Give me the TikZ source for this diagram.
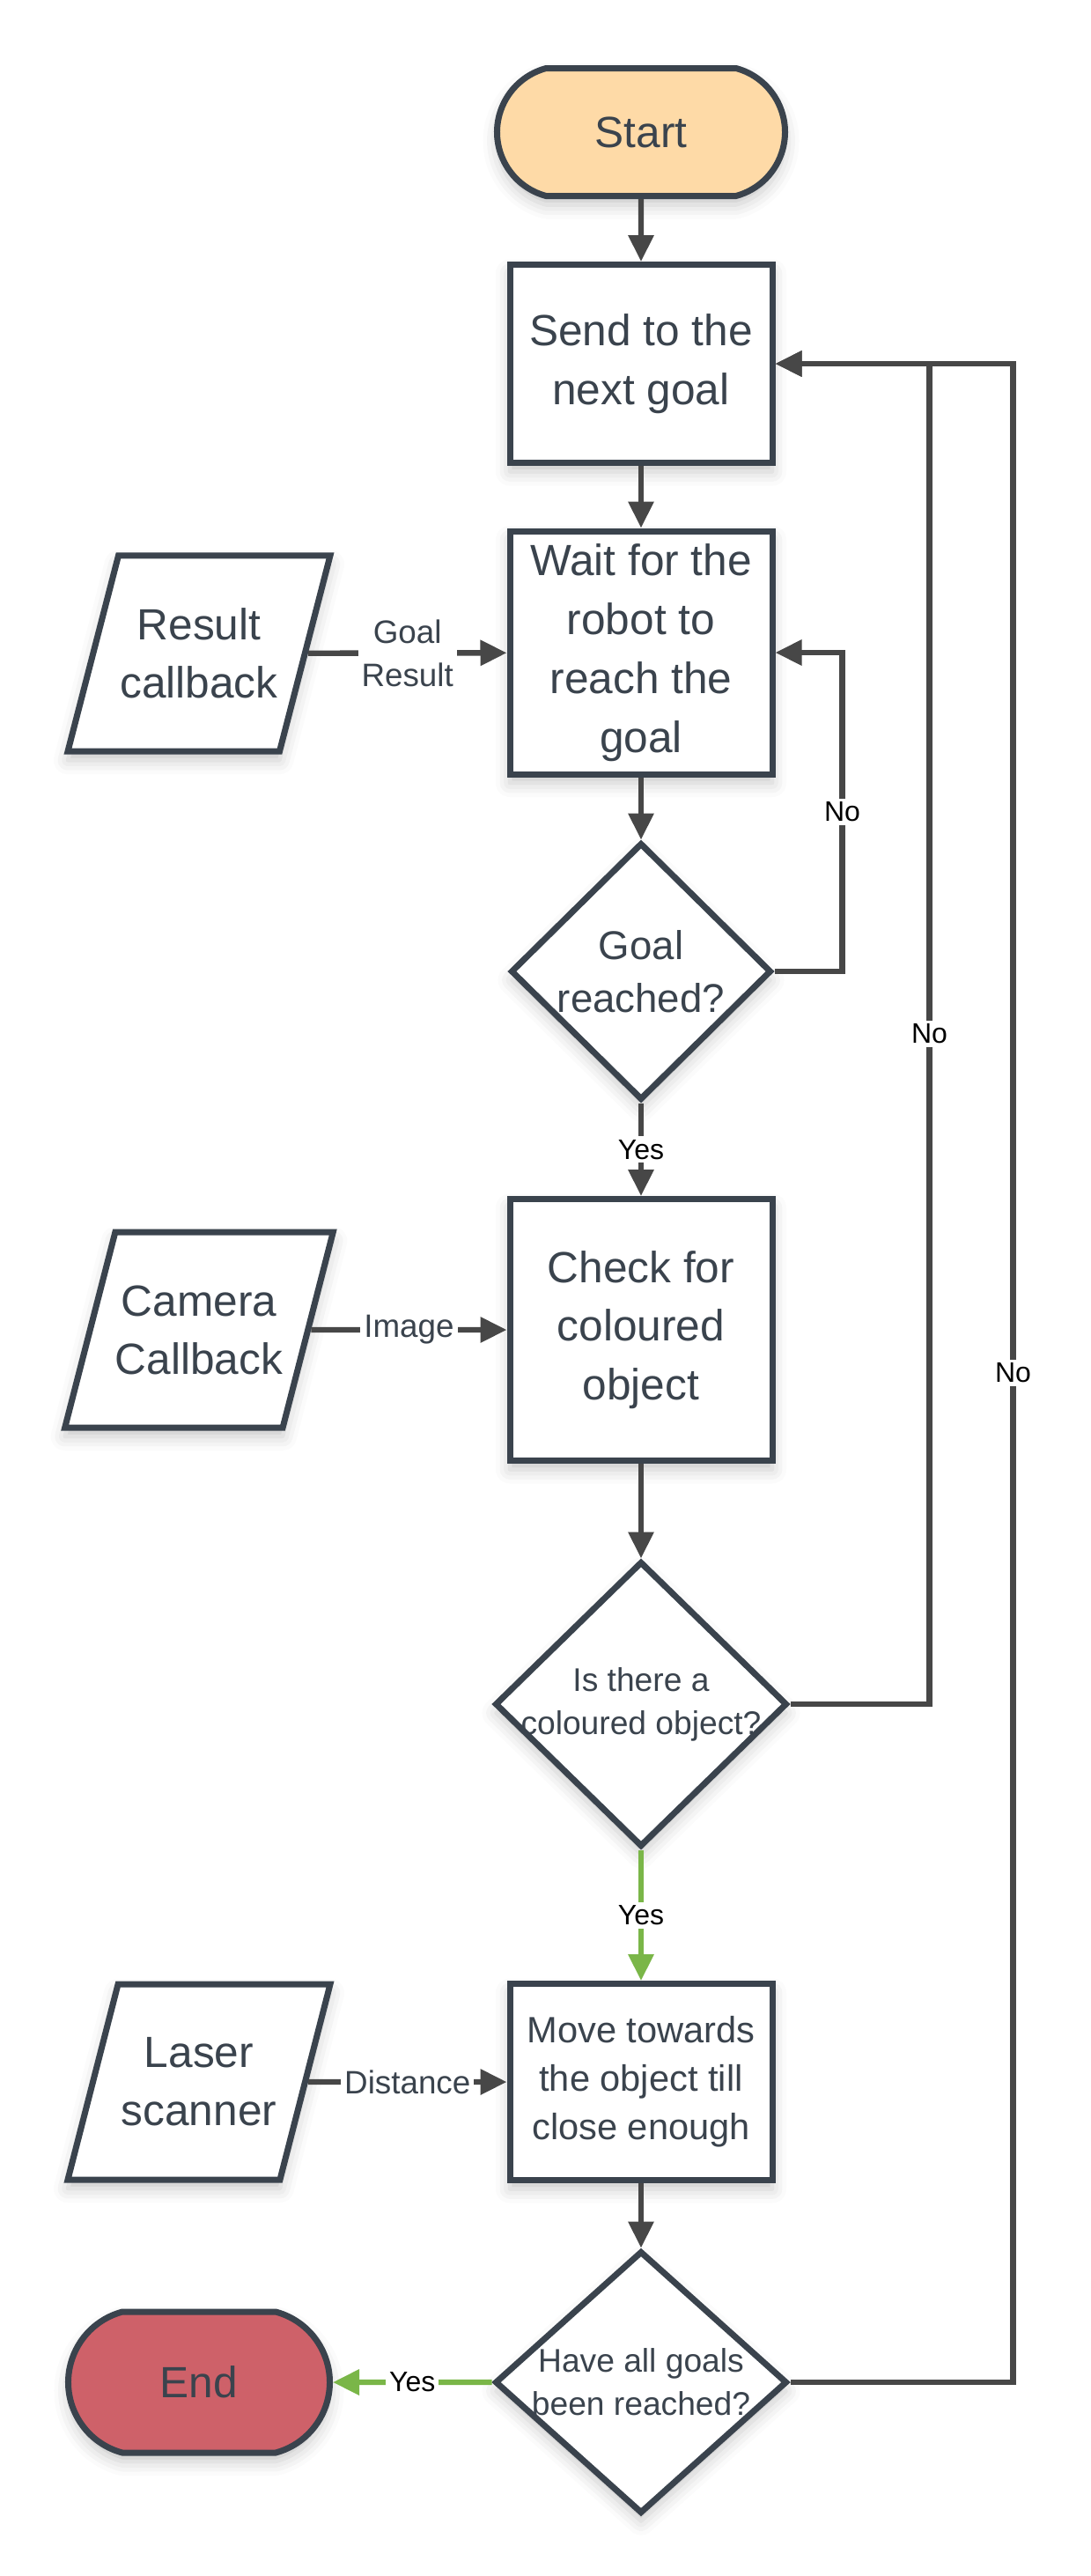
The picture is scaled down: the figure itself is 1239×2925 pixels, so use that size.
\documentclass[tikz,border=0pt]{standalone}
\usepackage{fontspec}
\setmainfont{Liberation Sans}
\usetikzlibrary{arrows.meta,shapes.geometric,shapes.misc,shadows.blur}
\definecolor{ink}{HTML}{3A434D}
\definecolor{wire}{HTML}{474747}
\definecolor{peach}{HTML}{FEDAA7}
\definecolor{rose}{HTML}{CE6169}
\definecolor{leaf}{HTML}{7AB648}
\tikzset{
    soft/.style={blur shadow={shadow xshift=0pt,shadow yshift=-2.5pt,shadow blur radius=4pt,shadow opacity=22}},
    startstop/.style={rounded rectangle,rounded rectangle arc length=150,draw=ink,line width=1.75pt,text=ink,
        font=\fontsize{12.4}{16.5}\selectfont,minimum width=81.75pt,minimum height=36.25pt,inner sep=0pt,soft},
    process/.style={rectangle,draw=ink,fill=white,line width=1.75pt,text=ink,align=center,
        font=\fontsize{12.4}{16.7}\selectfont,minimum width=74.5pt,inner sep=0pt,soft},
    decision/.style={diamond,draw=ink,fill=white,line width=1.75pt,inner sep=0pt,soft},
    dtext/.style={text=ink,align=center,inner sep=0pt},
    io/.style={trapezium,trapezium left angle=75.5,trapezium right angle=104.5,trapezium stretches body,
        draw=ink,fill=white,line width=1.75pt,text=ink,align=center,font=\fontsize{12.4}{16.5}\selectfont,
        minimum width=74.5pt,minimum height=55.5pt,inner xsep=0pt,inner ysep=15pt,soft},
    edge/.style={draw=wire,line width=1.6pt,-{Triangle[length=7.5pt,width=7pt]}},
    yesedge/.style={edge,draw=leaf},
    lbl/.style={fill=white,inner sep=1pt,font=\fontsize{8}{10}\selectfont,text=black},
    inlbl/.style={fill=white,inner sep=1pt,align=center,font=\fontsize{9.2}{12.3}\selectfont,text=ink}
}

\begin{document}
\begin{tikzpicture}[x=0.25pt,y=-0.25pt]
\useasboundingbox (0,0) rectangle (1239,2925);

\node[startstop, fill=peach] (start) at (728,150) {Start};
\node[process, minimum height=56.25pt] (send) at (728,413) {Send to the\\next goal};
\node[process, minimum height=69pt] (wait) at (728,741) {Wait for the\\robot to\\reach the\\goal};
\node[io] (result) at (226,742) {Result\\callback};
\node[decision, minimum width=74pt, minimum height=73pt,
    label={[dtext, font=\fontsize{11.4}{15}\selectfont]center:Goal\\reached?}] (reached) at (728,1103) {};
\node[process, minimum height=74.25pt] (check) at (728,1510) {Check for\\coloured\\object};
\node[io] (camera) at (226,1510) {Camera\\Callback};
\node[decision, minimum width=83pt, minimum height=81pt,
    label={[dtext, font=\fontsize{9.3}{12.2}\selectfont]center:Is there a\\coloured object?}] (object) at (728,1935) {};
\node[process, minimum height=55.75pt, font=\fontsize{10.4}{13.8}\selectfont] (move) at (728,2364) {Move towards\\the object till\\close enough};
\node[io] (laser) at (226,2364) {Laser\\scanner};
\node[decision, minimum width=83pt, minimum height=74.5pt,
    label={[dtext, font=\fontsize{9.3}{12.3}\selectfont]center:Have all goals\\been reached?}] (goals) at (728,2705) {};
\node[startstop, fill=rose, minimum width=74.25pt, minimum height=40pt] (stop) at (226,2705) {End};

\draw[edge] (start) -- (send);
\draw[edge] (send) -- (wait);
\draw[edge] (result) -- (wait) node[midway, inlbl] {Goal\\Result};
\draw[edge] (wait) -- (reached);
\draw[edge] (reached) -- (check) node[midway, lbl] {Yes};
\draw[edge] (reached.east) -- ++(77,0) |- node[pos=0.25, lbl] {No} (wait.east);
\draw[edge] (camera) -- (check) node[midway, inlbl] {Image};
\draw[edge] (check) -- (object);
\draw[yesedge] (object) -- (move) node[midway, lbl] {Yes};
\draw[edge] (object.east) -- ++(158,0) |- node[pos=0.25, lbl] {No} (send.east);
\draw[edge] (laser) -- (move) node[midway, inlbl] {Distance};
\draw[edge] (move) -- (goals);
\draw[yesedge] (goals) -- (stop) node[midway, lbl] {Yes};
\draw[edge] (goals.east) -- ++(253,0) |- node[pos=0.25, lbl] {No} (send.east);

\end{tikzpicture}
\end{document}
